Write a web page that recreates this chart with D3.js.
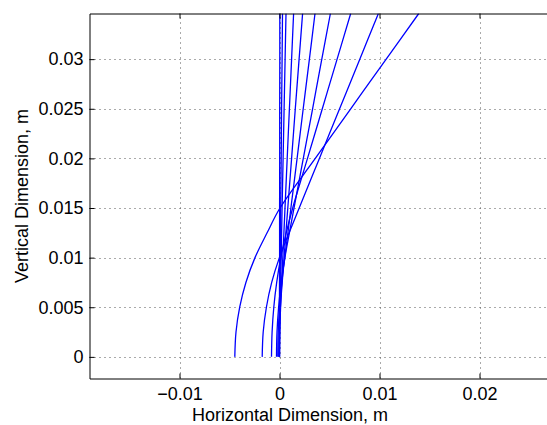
<!DOCTYPE html>
<html>
<head>
<meta charset="utf-8">
<script src="https://cdn.jsdelivr.net/npm/d3@7"></script>
<style>
  html, body { margin: 0; padding: 0; background: #fff; }
  svg { display: block; }
  text { font-family: "Liberation Sans", Arial, Helvetica, sans-serif; fill: #000; }
</style>
</head>
<body>
<svg id="chart" width="547" height="425"></svg>
<script>
// Sample heights along each profile (m)
const heights = [0, 0.0025, 0.005, 0.0075, 0.01, 0.0125, 0.015, 0.02, 0.025, 0.03, 0.0346];

// Horizontal position of each profile at the heights above (m)
const profile1  = [0, 0, 0, 0, 0.00001, 0.00001, 0.00001, 0.00002, 0.00002, 0.00003, 0.00003];
const profile2  = [0, 0.00001, 0.00003, 0.00005, 0.00008, 0.0001, 0.00012, 0.00017, 0.00021, 0.00026, 0.0003];
const profile3  = [0, 0.00002, 0.00006, 0.00011, 0.00017, 0.00021, 0.00026, 0.00036, 0.00046, 0.00056, 0.00065];
const profile4  = [-0.00002, 0.00002, 0.00011, 0.00022, 0.00033, 0.00044, 0.00055, 0.00077, 0.00099, 0.00121, 0.00141];
const profile5  = [-0.00007, -0.00003, 0.00009, 0.00027, 0.00046, 0.00064, 0.00083, 0.00121, 0.00158, 0.00196, 0.00231];
const profile6  = [-0.00017, -0.00013, 0.00001, 0.00023, 0.00053, 0.00084, 0.00114, 0.00176, 0.00237, 0.00299, 0.00355];
const profile7  = [-0.0003, -0.00025, -0.00009, 0.00017, 0.00054, 0.00099, 0.00145, 0.00238, 0.00331, 0.00423, 0.00509];
const profile8  = [-0.0008, -0.00074, -0.00057, -0.00028, 0.00013, 0.00067, 0.00132, 0.0028, 0.00428, 0.00576, 0.00712];
const profile9  = [-0.00173, -0.00163, -0.00131, -0.00078, -0.00001, 0.00096, 0.00197, 0.00399, 0.00601, 0.00803, 0.00989];
const profile10 = [-0.00447, -0.00435, -0.00398, -0.00336, -0.00245, -0.00124, 0.00005, 0.00358, 0.00712, 0.01067, 0.01393];

const profiles = [profile1, profile2, profile3, profile4, profile5,
                  profile6, profile7, profile8, profile9, profile10];

// Tick values and labels
const xTicks = [-0.01, 0, 0.01, 0.02];
const xTickLabels = ["\u22120.01", "0", "0.01", "0.02"];
const yTicks = [0, 0.005, 0.01, 0.015, 0.02, 0.025, 0.03];
const yTickLabels = ["0", "0.005", "0.01", "0.015", "0.02", "0.025", "0.03"];

const xLabel = "Horizontal Dimension, m";
const yLabel = "Vertical Dimension, m";

const svg = d3.select("#chart");

const plot = { left: 89.5, top: 13.5, right: 559.5, bottom: 378.5 };

const x = d3.scaleLinear().domain([-0.019, 0.028]).range([plot.left, plot.right]);
const y = d3.scaleLinear().domain([-0.00218, 0.0346]).range([plot.bottom, plot.top]);

svg.append("defs").append("clipPath").attr("id", "plot-clip")
  .append("rect")
  .attr("x", plot.left).attr("y", plot.top)
  .attr("width", plot.right - plot.left).attr("height", plot.bottom - plot.top);

// Dotted grid
const grid = svg.append("g").attr("stroke", "#555").attr("stroke-width", 1)
  .attr("stroke-dasharray", "1,4").attr("fill", "none");
grid.selectAll("line.gx").data(xTicks).join("line")
  .attr("class", "gx")
  .attr("x1", d => Math.round(x(d)) + 0.5).attr("x2", d => Math.round(x(d)) + 0.5)
  .attr("y1", plot.bottom).attr("y2", plot.top);
grid.selectAll("line.gy").data(yTicks).join("line")
  .attr("class", "gy")
  .attr("y1", d => Math.round(y(d)) + 0.5).attr("y2", d => Math.round(y(d)) + 0.5)
  .attr("x1", plot.left).attr("x2", plot.right);

// Profiles
const line = d3.line()
  .x(d => x(d[0]))
  .y(d => y(d[1]))
  .curve(d3.curveCatmullRom.alpha(0.5));

svg.append("g").attr("clip-path", "url(#plot-clip)")
  .selectAll("path").data(profiles).join("path")
  .attr("d", p => line(p.map((v, i) => [v, heights[i]])))
  .attr("fill", "none")
  .attr("stroke", "#0000ff")
  .attr("stroke-width", 1.3);

// Axes (ticks pointing inward, with box edges)
const xAxisBottom = d3.axisBottom(x).tickValues(xTicks)
  .tickFormat((d, i) => xTickLabels[i]).tickSizeInner(-5).tickSizeOuter(0).tickPadding(9);
const xAxisTop = d3.axisTop(x).tickValues(xTicks)
  .tickFormat("").tickSizeInner(-5).tickSizeOuter(0);
const yAxisLeft = d3.axisLeft(y).tickValues(yTicks)
  .tickFormat((d, i) => yTickLabels[i]).tickSizeInner(-5).tickSizeOuter(0).tickPadding(6);

function styleAxis(g) {
  g.select(".domain").attr("stroke", "#000").attr("stroke-width", 1);
  g.selectAll(".tick line").attr("stroke", "#000");
  g.selectAll(".tick text").style("font-size", "18px")
    .style("font-family", "'Liberation Sans', Arial, Helvetica, sans-serif");
}

svg.append("g").attr("transform", `translate(0,${plot.bottom})`).call(xAxisBottom).call(styleAxis);
svg.append("g").attr("transform", `translate(0,${plot.top})`).call(xAxisTop).call(styleAxis);
svg.append("g").attr("transform", `translate(${plot.left},0)`).call(yAxisLeft).call(styleAxis);

// Axis titles
svg.append("text")
  .attr("x", 290).attr("y", 420.5)
  .attr("text-anchor", "middle")
  .style("font-size", "18px")
  .text(xLabel);

svg.append("text")
  .attr("transform", `translate(28,${(plot.top + plot.bottom) / 2}) rotate(-90)`)
  .attr("text-anchor", "middle")
  .style("font-size", "18px")
  .text(yLabel);
</script>
</body>
</html>
